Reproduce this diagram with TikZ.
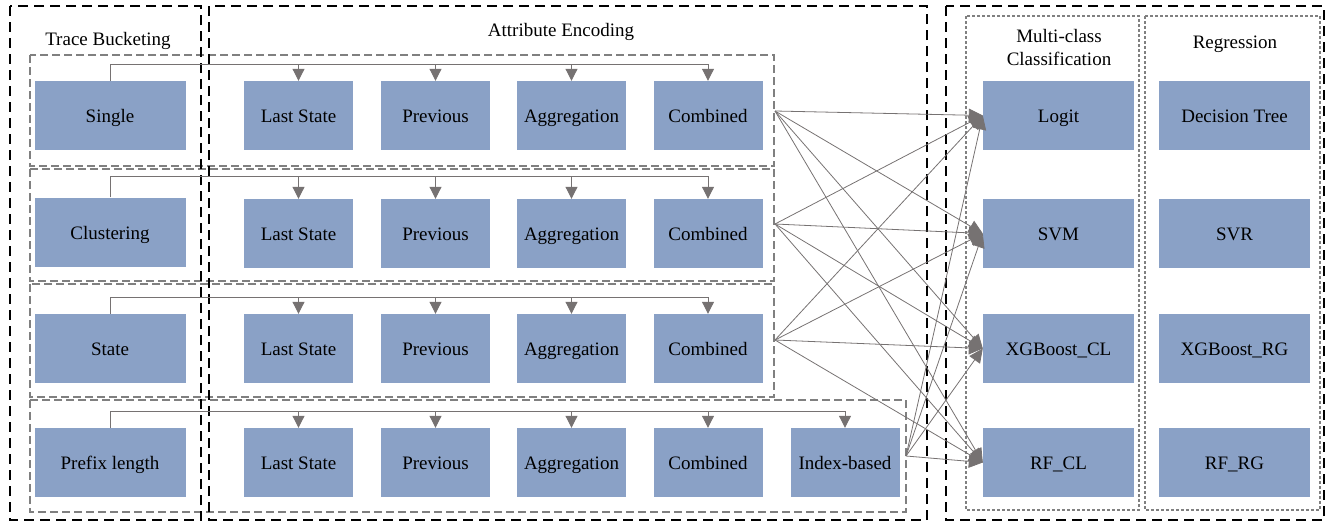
\documentclass[tikz,border=0pt]{standalone}
\usepackage{fontspec}
\setmainfont{Liberation Serif}
\usepackage{tikz}
\usetikzlibrary{arrows.meta}
\definecolor{cc}{RGB}{138, 161, 198}
\definecolor{lc}{RGB}{118, 114, 114}
\definecolor{gc}{RGB}{128, 128, 128}

\begin{document}
\begin{tikzpicture}[
  every node/.style={inner sep=0pt, font=\fontsize{19}{23}\selectfont},
  box/.style={rectangle, fill=cc, minimum height=69pt, text height=14pt, text depth=0pt},
  wide/.style={box, minimum width=151pt},
  narrow/.style={box, minimum width=109pt},
  title/.style={text height=12pt, text depth=0pt},
  group/.style={draw=black, line width=2.4pt, dash pattern=on 10pt off 6pt},
  row/.style={draw=gc, line width=1.5pt, dash pattern=on 8pt off 4pt},
  task/.style={draw=gc, line width=1.3pt, dash pattern=on 3pt off 2pt},
  link/.style={draw=lc, line width=1pt},
  drop/.style={link, -{Triangle[length=12pt, width=12pt]}},
  feed/.style={draw=lc, line width=0.8pt, -{Triangle[length=14pt, width=13pt]}}]
\useasboundingbox (0pt, 0pt) rectangle (1335pt, -522pt);
% groups
\draw [row] (30pt, -55pt) rectangle (774pt, -166pt);
\draw [row] (30pt, -169pt) rectangle (774pt, -281pt);
\draw [row] (30pt, -284pt) rectangle (774pt, -397pt);
\draw [row] (30pt, -400pt) rectangle (906pt, -512pt);
\draw [task] (966pt, -16pt) rectangle (1139pt, -510pt);
\draw [task] (1145pt, -16pt) rectangle (1320pt, -510pt);
\draw [group] (10pt, -6pt) rectangle (201pt, -520pt);
\draw [group] (209pt, -6pt) rectangle (927pt, -520pt);
\draw [group] (946pt, -6pt) rectangle (1324pt, -520pt);
% titles
\node (t1) [title] at (108pt, -39pt) {Trace Bucketing};
\node (t2) [title] at (561pt, -30pt) {Attribute Encoding};
\node (t3) [align=center] at (1059pt, -48pt) {Multi-class\\Classification};
\node (t4) [title] at (1235pt, -42pt) {Regression};
% buckets
\node (b1) [wide] at (110pt, -115.5pt) {Single};
\node (b2) [wide] at (110pt, -232pt) {Clustering};
\node (b3) [wide] at (110pt, -348.5pt) {State};
\node (b4) [wide] at (110pt, -462.5pt) {Prefix length};
% encodings
\node (e11) [narrow] at (298.5pt, -115.5pt) {Last State};
\node (e12) [narrow] at (435.5pt, -115.5pt) {Previous};
\node (e13) [narrow] at (571.5pt, -115.5pt) {Aggregation};
\node (e14) [narrow] at (708pt, -115.5pt) {Combined};
\node (e21) [narrow] at (298.5pt, -233.5pt) {Last State};
\node (e22) [narrow] at (435.5pt, -233.5pt) {Previous};
\node (e23) [narrow] at (571.5pt, -233.5pt) {Aggregation};
\node (e24) [narrow] at (708pt, -233.5pt) {Combined};
\node (e31) [narrow] at (298.5pt, -348.5pt) {Last State};
\node (e32) [narrow] at (435.5pt, -348.5pt) {Previous};
\node (e33) [narrow] at (571.5pt, -348.5pt) {Aggregation};
\node (e34) [narrow] at (708pt, -348.5pt) {Combined};
\node (e41) [narrow] at (298.5pt, -462.5pt) {Last State};
\node (e42) [narrow] at (435.5pt, -462.5pt) {Previous};
\node (e43) [narrow] at (571.5pt, -462.5pt) {Aggregation};
\node (e44) [narrow] at (708pt, -462.5pt) {Combined};
\node (e45) [narrow] at (845pt, -462.5pt) {Index-based};
% learners
\node (c1) [wide] at (1058.5pt, -115.5pt) {Logit};
\node (c2) [wide] at (1058.5pt, -233.5pt) {SVM};
\node (c3) [wide] at (1058.5pt, -348.5pt) {XGBoost\_CL};
\node (c4) [wide] at (1058.5pt, -462.5pt) {RF\_CL};
\node (r1) [wide] at (1234.5pt, -115.5pt) {Decision Tree};
\node (r2) [wide] at (1234.5pt, -233.5pt) {SVR};
\node (r3) [wide] at (1234.5pt, -348.5pt) {XGBoost\_RG};
\node (r4) [wide] at (1234.5pt, -462.5pt) {RF\_RG};
% bars and outputs
\coordinate (bar1) at (708pt, -64pt);
\coordinate (bar2) at (708pt, -176pt);
\coordinate (bar3) at (708pt, -297pt);
\coordinate (bar4) at (845pt, -411pt);
\coordinate (o1) at (775pt, -111pt);
\coordinate (o2) at (775pt, -224pt);
\coordinate (o3) at (775pt, -340pt);
\coordinate (o4) at (906pt, -456pt);
\draw [link] (b1.north) |- (bar1);
\draw [link] (b2.north) |- (bar2);
\draw [link] (b3.north) |- (bar3);
\draw [link] (b4.north) |- (bar4);
\draw [drop] (e11.north |- bar1) to (e11.north);
\draw [drop] (e12.north |- bar1) to (e12.north);
\draw [drop] (e13.north |- bar1) to (e13.north);
\draw [drop] (e14.north |- bar1) to (e14.north);
\draw [drop] (e21.north |- bar2) to (e21.north);
\draw [drop] (e22.north |- bar2) to (e22.north);
\draw [drop] (e23.north |- bar2) to (e23.north);
\draw [drop] (e24.north |- bar2) to (e24.north);
\draw [drop] (e31.north |- bar3) to (e31.north);
\draw [drop] (e32.north |- bar3) to (e32.north);
\draw [drop] (e33.north |- bar3) to (e33.north);
\draw [drop] (e34.north |- bar3) to (e34.north);
\draw [drop] (e41.north |- bar4) to (e41.north);
\draw [drop] (e42.north |- bar4) to (e42.north);
\draw [drop] (e43.north |- bar4) to (e43.north);
\draw [drop] (e44.north |- bar4) to (e44.north);
\draw [drop] (e45.north |- bar4) to (e45.north);
% encodings to classifiers
\draw [feed] (o1) to (c1.west);
\draw [feed] (o1) to (c2.west);
\draw [feed] (o1) to (c3.west);
\draw [feed] (o1) to (c4.west);
\draw [feed] (o2) to (c1.west);
\draw [feed] (o2) to (c2.west);
\draw [feed] (o2) to (c3.west);
\draw [feed] (o2) to (c4.west);
\draw [feed] (o3) to (c1.west);
\draw [feed] (o3) to (c2.west);
\draw [feed] (o3) to (c3.west);
\draw [feed] (o3) to (c4.west);
\draw [feed] (o4) to (c1.west);
\draw [feed] (o4) to (c2.west);
\draw [feed] (o4) to (c3.west);
\draw [feed] (o4) to (c4.west);
\end{tikzpicture}
\end{document}
